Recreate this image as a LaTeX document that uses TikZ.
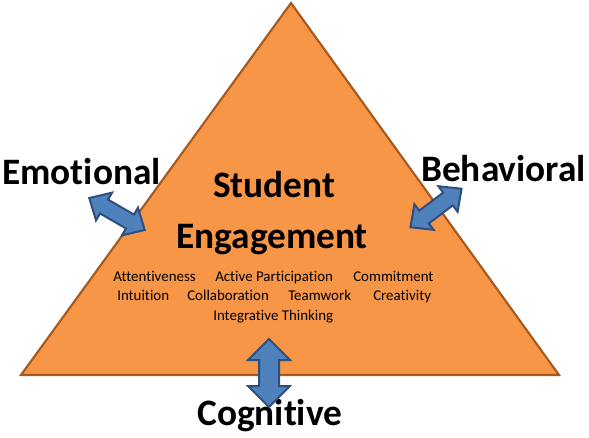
\documentclass[tikz,border=0pt]{standalone}
\usepackage{fontspec}
\setmainfont{Carlito}[RawFeature={-liga;-clig;-calt}]
\begin{document}
\begin{tikzpicture}[x=0.75pt,y=-0.75pt,
  tri/.style={fill=triorange,draw=triedge,line width=1.6pt,line join=miter},
  dblarrow/.style={fill=arrowblue,draw=arrowedge,line width=1.5pt,line join=miter},
  bigword/.style={font=\fontsize{28}{30}\selectfont\bfseries,inner sep=0pt,anchor=base west},
  smallword/.style={font=\fontsize{11.2}{12}\selectfont,inner sep=0pt,anchor=base west}]
\definecolor{triorange}{HTML}{F79646}
\definecolor{triedge}{HTML}{A85A1E}
\definecolor{arrowblue}{HTML}{4F81BD}
\definecolor{arrowedge}{HTML}{2E4F7E}
\useasboundingbox (0,0) rectangle (589,437);
% triangle
\coordinate (apex) at (291,3);
\coordinate (bl) at (21,375);
\coordinate (br) at (559,375);
\draw[tri] (apex) -- (br) -- (bl) -- cycle;
% labels
\node[bigword] (student) at (213,197) {Student};
\node[bigword] (engagement) at (176,248) {Engagement};
\node[bigword] (emotional) at (2,184) {Emotional};
\node[bigword] (behavioral) at (421,181) {Behavioral};
\node[bigword] (cognitive) at (197,425) {Cognitive};
% small words
\node[smallword] (w1) at (113,281) {Attentiveness};
\node[smallword] (w2) at (215,281) {Active Participation};
\node[smallword] (w3) at (353,281) {Commitment};
\node[smallword] (w4) at (117,300) {Intuition};
\node[smallword] (w5) at (187,300) {Collaboration};
\node[smallword] (w6) at (288,300) {Teamwork};
\node[smallword] (w7) at (373,300) {Creativity};
\node[smallword] (w8) at (213,320) {Integrative Thinking};
% arrows
\draw[dblarrow,shift={(117,214)},rotate=-30]
  (-32,0) -- (-15,-16) -- (-15,-8) -- (15,-8) -- (15,-16) -- (32,0)
  -- (15,16) -- (15,8) -- (-15,8) -- (-15,16) -- cycle;
\draw[dblarrow,shift={(436,208)},rotate=37]
  (-32,0) -- (-15,-16) -- (-15,-8) -- (15,-8) -- (15,-16) -- (32,0)
  -- (15,16) -- (15,8) -- (-15,8) -- (-15,16) -- cycle;
\draw[dblarrow,shift={(269,373)}]
  (0,-34) -- (21,-13) -- (10,-13) -- (10,13) -- (21,13) -- (0,34)
  -- (-21,13) -- (-10,13) -- (-10,-13) -- (-21,-13) -- cycle;
\end{tikzpicture}
\end{document}
